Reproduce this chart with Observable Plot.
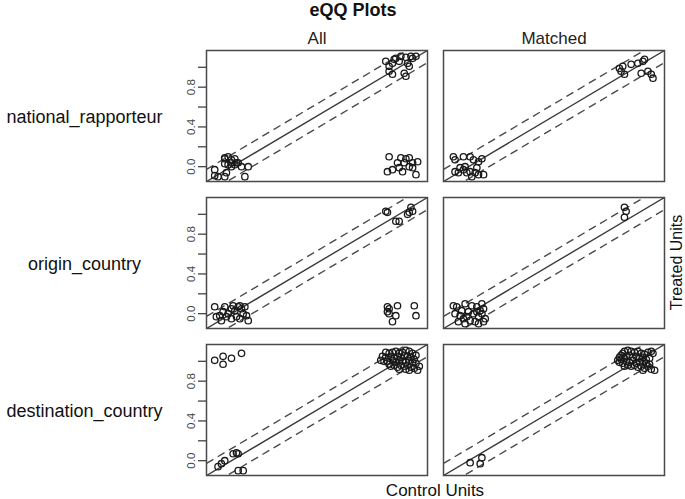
<!DOCTYPE html>
<html>
<head>
<meta charset="utf-8">
<script src="https://cdn.jsdelivr.net/npm/d3@7"></script>
<script src="https://cdn.jsdelivr.net/npm/@observablehq/plot@0.6"></script>
<style>
  html, body { margin: 0; padding: 0; background: #fff; }
  #chart { width: 685px; height: 499px; }
</style>
</head>
<body>
<div id="chart"></div>
<script>
// ---- data: [control quantile, treated quantile] pairs ----
const variables = ["national_rapporteur", "origin_country", "destination_country"];
const groups = ["All", "Matched"];
const yTicks = [0, 0.2, 0.4, 0.6, 0.8, 1.0];
const yTickLabels = ["0.0", "", "0.4", "", "0.8", ""];

const nationalAll = [
  [-0.10,-0.03],[-0.10,-0.09],[-0.04,0.09],[-0.04,0.08],[-0.02,0.10],[0.00,0.04],[-0.04,0.03],[-0.02,0.02],
  [0.00,0.00],[0.02,0.02],[0.03,0.04],[0.04,0.04],[0.06,0.00],[0.10,0.00],[0.08,-0.10],[-0.03,-0.06],
  [-0.04,-0.10],[-0.08,-0.10],[0.00,0.07],[0.02,0.08],
  [0.92,1.06],[0.94,1.01],[0.96,1.04],[0.98,1.09],[1.01,1.11],[1.04,1.10],[1.08,1.09],[1.05,1.04],
  [1.06,1.01],[1.03,0.94],[1.04,0.91],[0.94,0.96],[0.96,0.93],[1.00,1.06],[1.07,1.11],[1.10,1.11],[0.97,1.08],
  [0.94,0.10],[1.01,0.09],[1.04,0.08],[1.06,0.09],[1.08,0.04],[1.11,0.05],[1.03,0.04],[1.00,-0.01],
  [0.96,-0.03],[0.93,-0.05],[1.06,0.00],[1.02,-0.05],[1.10,-0.08],[0.99,0.04],[1.08,-0.01]
];
const nationalMatched = [
  [-0.09,0.10],[-0.08,0.07],[-0.03,0.10],[0.01,0.10],[0.03,0.07],[0.06,0.05],[0.08,0.08],[-0.08,-0.05],
  [-0.05,-0.01],[-0.03,-0.03],[-0.01,-0.06],[0.01,-0.05],[0.04,-0.06],[0.06,-0.08],[0.09,-0.08],[0.02,-0.10],
  [-0.06,-0.06],[-0.02,0.00],[0.05,-0.01],
  [0.90,0.99],[0.91,0.96],[0.93,0.93],[0.97,1.03],[1.01,1.04],[1.04,1.06],[1.05,1.08],[1.03,0.94],
  [1.07,0.96],[1.09,0.93],[1.10,0.89],[0.92,1.01]
];
const originAll = [
  [-0.10,0.07],[-0.09,-0.03],[-0.06,-0.07],[-0.05,0.02],[-0.04,0.07],[-0.02,0.00],[0.00,0.05],[0.02,0.03],
  [0.04,0.07],[0.05,0.08],[0.06,0.05],[0.07,0.00],[0.05,-0.05],[0.03,-0.03],[0.00,-0.05],[0.10,-0.07],
  [0.09,-0.02],[-0.07,-0.02],[-0.03,-0.03],[0.08,0.07],[0.01,0.08],
  [0.92,1.03],[0.93,1.02],[0.98,0.93],[1.00,0.93],[1.06,1.02],[1.07,1.07],[1.08,1.03],[1.05,1.00],
  [0.93,0.07],[0.94,0.05],[0.93,0.02],[0.99,0.08],[0.98,-0.02],[0.96,-0.08],[1.09,0.08],[1.10,-0.02],[0.94,0.00]
];
const originMatched = [
  [-0.09,0.08],[-0.07,0.07],[-0.02,0.10],[0.02,0.08],[0.05,0.07],[0.08,0.10],[0.09,0.05],[-0.08,0.00],
  [-0.05,-0.02],[-0.03,-0.05],[-0.06,-0.08],[-0.02,-0.10],[0.01,-0.07],[0.04,-0.08],[0.06,-0.03],[0.08,0.00],
  [0.10,-0.05],[0.06,-0.10],[0.03,0.00],[0.00,0.02],[-0.04,0.03],[0.07,0.03],[0.09,-0.08],[-0.01,-0.03],[0.05,0.02],
  [0.93,1.07],[0.94,1.03],[0.93,0.97]
];
const destinationAll = [
  [-0.10,1.01],[-0.05,1.05],[-0.05,0.97],[0.00,1.03],[0.06,1.08],
  [-0.08,-0.06],[-0.06,-0.03],[-0.04,0.00],[0.01,0.07],[0.03,0.08],[0.04,0.07],[0.04,-0.10],[0.07,-0.10],
  [0.92,1.09],[0.94,1.08],[0.96,1.09],[0.98,1.10],[1.00,1.08],[1.02,1.09],[1.04,1.11],[1.06,1.10],[1.08,1.08],
  [1.10,1.06],[0.90,1.05],[0.92,1.04],[0.95,1.05],[0.97,1.03],[0.99,1.05],[1.01,1.04],[1.03,1.06],[1.05,1.05],
  [1.07,1.04],[1.09,1.02],[0.89,1.01],[0.91,1.00],[0.93,1.00],[0.96,1.01],[0.98,0.99],[1.00,1.01],[1.02,1.00],
  [1.04,0.99],[1.06,1.01],[1.08,0.99],[1.10,0.98],[0.94,0.97],[0.97,0.96],[0.99,0.94],[1.01,0.96],[1.03,0.95],
  [1.05,0.96],[1.07,0.94],[1.09,0.93],[1.11,0.91],[1.00,0.92],[1.04,0.92],[0.95,0.95],[1.06,0.91],[1.12,0.95]
];
const destinationMatched = [
  [0.01,-0.02],[0.07,-0.03],[0.08,0.03],
  [0.90,1.04],[0.91,1.06],[0.92,1.08],[0.93,1.10],[0.95,1.11],[0.97,1.10],[0.99,1.09],[1.01,1.10],[1.03,1.08],
  [1.05,1.07],[1.07,1.09],[1.09,1.10],[1.10,1.08],[0.89,1.01],[0.91,1.02],[0.93,1.03],[0.94,1.05],[0.96,1.06],
  [0.98,1.04],[1.00,1.05],[1.02,1.03],[1.04,1.04],[1.06,1.02],[1.08,1.03],[0.90,0.99],[0.92,0.98],[0.94,1.00],
  [0.96,0.99],[0.98,1.01],[1.00,0.98],[1.02,0.99],[1.04,1.00],[1.06,0.98],[1.08,0.97],[0.95,0.96],[0.97,0.95],
  [0.99,0.96],[1.01,0.94],[1.03,0.95],[1.05,0.93],[1.07,0.95],[1.09,0.92],[1.11,0.91],[1.04,0.91],[0.93,0.95]
];

// ---- build the long table ----
const panels = [
  ["national_rapporteur", "All", nationalAll],
  ["national_rapporteur", "Matched", nationalMatched],
  ["origin_country", "All", originAll],
  ["origin_country", "Matched", originMatched],
  ["destination_country", "All", destinationAll],
  ["destination_country", "Matched", destinationMatched]
];
const rows = panels.flatMap(([variable, group, pts]) =>
  pts.map(([control, treated]) => ({variable, group, control, treated})));

// axis limits: data range extended by 4% on each side (as R does)
const allVals = rows.flatMap(d => [d.control, d.treated]);
const dMin = d3.min(allVals), dMax = d3.max(allVals);
const span = dMax - dMin;
const lo = dMin - 0.04 * span, hi = dMax + 0.04 * span;
const band = 0.1 * span;

const refLines = [
  {kind: "solid", off: 0},
  {kind: "dashed", off: band},
  {kind: "dashed", off: -band}
];
const rowLabels = variables.map(v => ({variable: v, group: "All"}));

const font = "'Liberation Sans', Arial, Helvetica, sans-serif";

const plot = Plot.plot({
  width: 685,
  height: 499,
  marginLeft: 205,
  marginRight: 20,
  marginTop: 50,
  marginBottom: 24,
  style: {fontFamily: font, background: "#fff", color: "#222"},
  x: {domain: [lo, hi], axis: null},
  y: {domain: [lo, hi], axis: null},
  fx: {domain: groups, paddingInner: 0.067, paddingOuter: 0, axis: null},
  fy: {domain: variables, paddingInner: 0.109, paddingOuter: 0, axis: null},
  marks: [
    Plot.link(refLines.filter(d => d.kind === "solid"), {
      x1: () => lo, y1: d => lo + d.off, x2: () => hi, y2: d => hi + d.off,
      stroke: "#3a3a3a", strokeWidth: 1.4, clip: true
    }),
    Plot.link(refLines.filter(d => d.kind === "dashed"), {
      x1: () => lo, y1: d => lo + d.off, x2: () => hi, y2: d => hi + d.off,
      stroke: "#4a4a4a", strokeWidth: 1.4, strokeDasharray: "8,5", clip: true
    }),
    Plot.dot(rows, {
      x: "control", y: "treated", fx: "group", fy: "variable",
      r: 3.2, stroke: "#1a1a1a", strokeWidth: 1.3, fill: "none"
    }),
    Plot.frame({stroke: "#4a4a4a", strokeWidth: 1.5}),
    Plot.axisY(yTicks, {
      anchor: "left",
      tickFormat: d => yTickLabels[yTicks.indexOf(d)],
      tickSize: 8, tickPadding: 4, tickRotate: -90,
      fontSize: 11.5, label: null, stroke: "#333", strokeWidth: 1.2, color: "#444"
    }),
    Plot.axisFx({anchor: "top", label: null, tickSize: 0, tickPadding: 7, fontSize: 17}),
    Plot.text(rowLabels, {
      fx: "group", fy: "variable", text: "variable",
      frameAnchor: "left", dx: -122, dy: 1, textAnchor: "middle", fontSize: 18, fill: "#111"
    })
  ]
});

const svg = d3.select(plot);
svg.append("text")
  .attr("x", 353).attr("y", 16)
  .attr("text-anchor", "middle")
  .attr("font-weight", "bold")
  .attr("font-size", 18)
  .attr("fill", "#111")
  .text("eQQ Plots");
svg.append("text")
  .attr("x", 435).attr("y", 496)
  .attr("text-anchor", "middle")
  .attr("font-size", 17)
  .attr("fill", "#111")
  .text("Control Units");
svg.append("text")
  .attr("transform", "translate(682,262.5) rotate(-90)")
  .attr("text-anchor", "middle")
  .attr("font-size", 16)
  .attr("fill", "#111")
  .text("Treated Units");

document.getElementById("chart").appendChild(plot);
</script>
</body>
</html>
